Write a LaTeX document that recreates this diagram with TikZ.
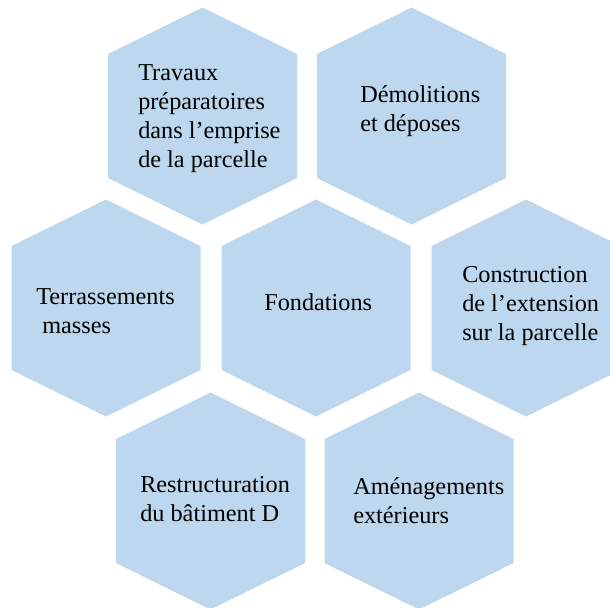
\documentclass[tikz,border=0pt]{standalone}
\usepackage{fontspec}
\setmainfont{Liberation Serif}
\usetikzlibrary{positioning}
\definecolor{hexblue}{HTML}{BDD7EE}

% one cell of the honeycomb, centred at (#1,#2)
\newcommand{\hexcell}[2]{%
  \fill[hexblue] (#1,#2) ++(0,-108.5) -- ++(94.5,46.5) -- ++(0,124) -- ++(-94.5,46.5) -- ++(-94.5,-46.5) -- ++(0,-124) -- cycle;}

\begin{document}
\begin{tikzpicture}[x=0.75pt, y=-0.75pt,
        label_text/.style={anchor=west, align=left, inner sep=0pt, text=black, font=\fontsize{18.2}{21.75}\selectfont}]

        \clip (0,0) rectangle (610,607);

        % Cells
        \hexcell{202.5}{116}
        \hexcell{411.5}{116}
        \hexcell{106}{308}
        \hexcell{316}{308}
        \hexcell{526}{308}
        \hexcell{210.5}{501}
        \hexcell{419}{501}

        % Nodes
        \node [label_text] (travaux) at (138,118.5) {Travaux\\préparatoires\\dans l’emprise\\de la parcelle};
        \node [label_text] (demolitions) at (360,111.5) {Démolitions\\et déposes};
        \node [label_text] (terrassements) at (36,311) {Terrassements\\\ masses};
        \node [label_text] (fondations) at (264,302) {Fondations};
        \node [label_text] (construction) at (462,306.5) {Construction\\de l’extension\\sur la parcelle};
        \node [label_text] (restructuration) at (140,499.5) {Restructuration\\du bâtiment D};
        \node [label_text] (amenagements) at (353,501) {Aménagements\\extérieurs};
    \end{tikzpicture}
\end{document}
